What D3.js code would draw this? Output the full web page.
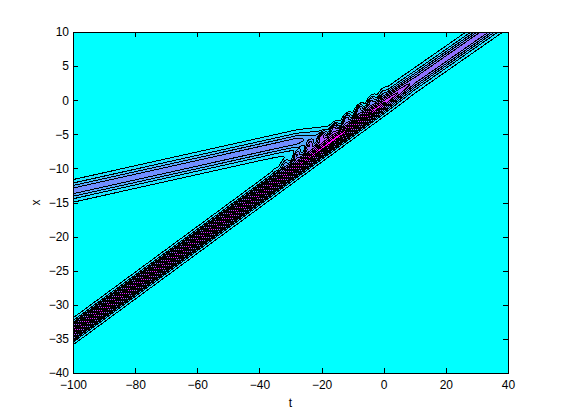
<!DOCTYPE html>
<html>
<head>
<meta charset="utf-8">
<script src="https://cdn.jsdelivr.net/npm/d3@7"></script>
<style>
body { margin: 0; background: #fff; }
text { font-family: "Liberation Sans", Arial, sans-serif; }
</style>
</head>
<body>
<svg width="561" height="420"></svg>
<script>
// axis ticks
var tTicks = [-100, -80, -60, -40, -20, 0, 20, 40];
var xTicks = [-40, -35, -30, -25, -20, -15, -10, -5, 0, 5, 10];
var levels = [0.1, 0.2, 0.3, 0.4, 0.5, 0.6, 0.7, 0.8, 0.9];

// large soliton track
var bigT = [-100, -20, -5, 10, 40];
var bigX = [-33.9, -7.1, -2.1, 2.9, 12.4];
var bigA = [0.95, 0.95, 0.95, 0.56, 0.56];
var bigW = [1.0, 1.0, 1.0, 1.25, 1.25];
var bigShape = [0, 0, 0, 1, 1]; // 0 = steep crest, 1 = smooth sech^2

// small soliton track, it merges into the large one
var smallT = [-100, -28, -12];
var smallX = [-13.3, -6.0, -4.4];
var smallA = [0.45, 0.45, 0];
var smallW = [1.2, 1.2, 1.2];

// ripples on the upper side of the interaction zone
var rippleT = [-36, -28, -5, 2];
var rippleA = [0, 0.3, 0.3, 0];
var ripplePeriod = 4;

var margin = {top: 32, left: 73};
var width = 435, height = 341;

var svg = d3.select("svg");
var g = svg.append("g").attr("transform", "translate(" + margin.left + "," + margin.top + ")");

var sx = d3.scaleLinear().domain([-100, 40]).range([0, width]);
var sy = d3.scaleLinear().domain([-40, 10]).range([height, 0]);

function track(T, V) { return d3.scaleLinear().domain(T).range(V).clamp(true); }
var bX = track(bigT, bigX), bA = track(bigT, bigA), bW = track(bigT, bigW), bS = track(bigT, bigShape);
var sX = track(smallT, smallX), sA = track(smallT, smallA), sW = track(smallT, smallW);
var rA = track(rippleT, rippleA);

function sech2(z) { var c = Math.cosh(z); return 1 / (c * c); }
// steep crest with an exponential tail: the inner contours crowd into a dark band
function crest(z) {
  var a = Math.abs(z);
  return a <= 1.2 ? 1 - 0.5 * a : 0.4 * Math.exp(-(a - 1.2) / 0.58);
}

// sample the field on a grid, 2 samples per pixel
var nx = 870, ny = 682;
var values = new Float64Array(nx * ny);
for (var i = 0; i < nx; i++) {
  var t = sx.invert((i + 0.5) * width / nx);
  var bx = bX(t), ba = bA(t), bw = bW(t), bs = bS(t);
  var smx = sX(t), sma = sA(t), smw = sW(t);
  var ra = rA(t) * (0.5 + 0.5 * Math.cos(2 * Math.PI * (t + 100) / ripplePeriod));
  for (var j = 0; j < ny; j++) {
    var x = sy.invert((j + 0.5) * height / ny);
    var z = (x - bx) / bw;
    var v = ba * ((1 - bs) * crest(z) + bs * sech2(z)) + sma * sech2((x - smx) / smw);
    if (ra > 0) {
      var e = (x - bx - 1.8) / 0.6;
      v += ra * Math.exp(-e * e);
    }
    values[j * nx + i] = v;
  }
}

var contours = d3.contours().size([nx, ny]).thresholds(levels)(values);

var path = d3.geoPath(d3.geoTransform({
  point: function(px, py) { this.stream.point(px * width / nx, py * height / ny); }
}));

var cool = d3.interpolateRgb("#00ffff", "#ff00ff");

g.append("clipPath").attr("id", "plotclip")
  .append("rect").attr("width", width).attr("height", height);

var plot = g.append("g").attr("clip-path", "url(#plotclip)");

plot.append("rect")
    .attr("width", width)
    .attr("height", height)
    .attr("fill", "#00ffff");

plot.selectAll("path.level")
  .data(contours)
  .enter().append("path")
    .attr("class", "level")
    .attr("d", path)
    .attr("fill", function(d) { return cool(d.value / levels[levels.length - 1]); })
    .attr("stroke", "#000")
    .attr("stroke-width", 1)
    .attr("shape-rendering", "crispEdges");

// axes, MATLAB style ticks inside
g.append("g")
    .attr("transform", "translate(0," + height + ")")
    .call(d3.axisBottom(sx).tickValues(tTicks).tickSize(-5).tickPadding(7));
g.append("g")
    .call(d3.axisLeft(sy).tickValues(xTicks).tickSize(-5).tickPadding(4));
g.append("g")
    .call(d3.axisTop(sx).tickValues(tTicks).tickSize(-5).tickFormat(""));
g.append("g")
    .attr("transform", "translate(" + width + ",0)")
    .call(d3.axisRight(sy).tickValues(xTicks).tickSize(-5).tickFormat(""));

g.selectAll(".domain").remove();
g.selectAll(".tick line").attr("stroke", "#000").attr("shape-rendering", "crispEdges");
g.selectAll(".tick text").attr("fill", "#000").style("font-size", "12px");

g.append("rect")
    .attr("width", width)
    .attr("height", height)
    .attr("fill", "none")
    .attr("stroke", "#000")
    .attr("shape-rendering", "crispEdges");

svg.append("text")
    .attr("x", margin.left + width / 2)
    .attr("y", 407)
    .attr("text-anchor", "middle")
    .style("font-size", "12px")
    .text("t");

svg.append("text")
    .attr("transform", "translate(40," + (margin.top + height / 2) + ") rotate(-90)")
    .attr("text-anchor", "middle")
    .style("font-size", "12px")
    .text("x");
</script>
</body>
</html>
